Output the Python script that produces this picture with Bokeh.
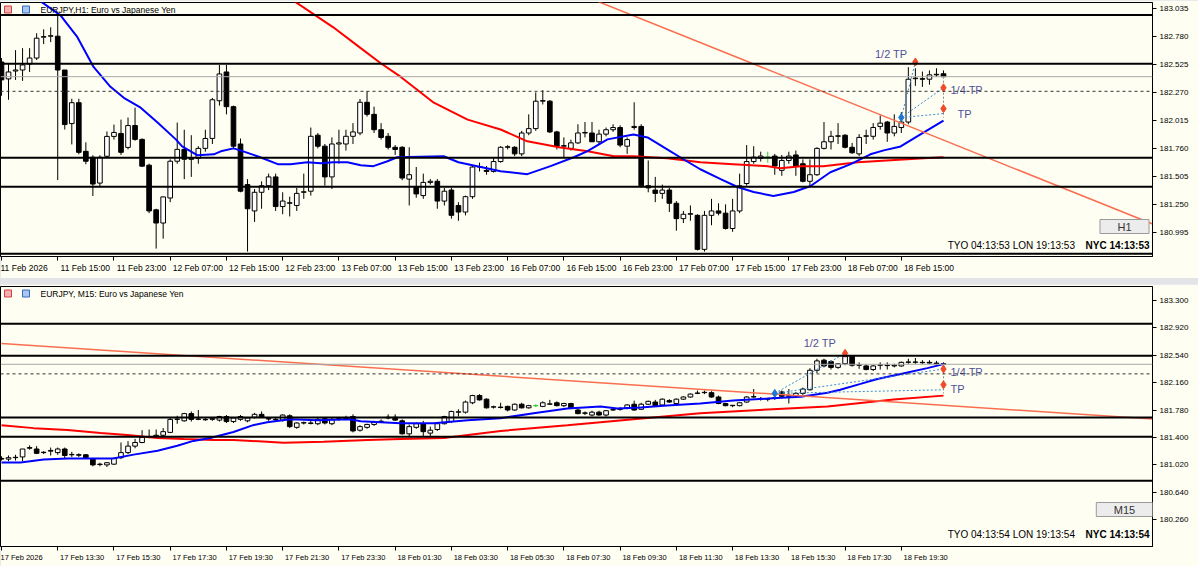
from bokeh.plotting import figure
from bokeh.layouts import column
from bokeh.models import Range1d, FixedTicker, NumeralTickFormatter, Label, Span, ColumnDataSource
from bokeh.core.properties import value
from bokeh.embed import file_html
from bokeh.resources import INLINE

# ---------------- data: H1 panel ----------------
h1_xlabels = ["11 Feb 2026", "11 Feb 15:00", "11 Feb 23:00", "12 Feb 07:00", "12 Feb 15:00",
              "12 Feb 23:00", "13 Feb 07:00", "13 Feb 15:00", "13 Feb 23:00", "16 Feb 07:00",
              "16 Feb 15:00", "16 Feb 23:00", "17 Feb 07:00", "17 Feb 15:00", "17 Feb 23:00",
              "18 Feb 07:00", "18 Feb 15:00"]
h1_yticks = [183.035, 182.780, 182.525, 182.270, 182.015, 181.760, 181.505, 181.250, 180.995]

h1_open = [182.547, 182.393, 182.465, 182.474, 182.529, 182.583, 182.773, 182.782, 182.782, 182.474,
           181.986, 182.176, 181.733, 181.679, 181.444, 181.688, 181.869, 181.896, 181.769, 181.968,
           181.842, 181.607, 181.200, 181.080, 181.308, 181.643, 181.751, 181.660, 181.670, 181.760,
           181.851, 182.194, 182.456, 182.140, 181.800, 181.430, 181.190, 181.360, 181.420, 181.500,
           181.230, 181.260, 181.240, 181.360, 181.370, 181.880, 181.780, 181.500, 181.800, 181.800,
           181.870, 181.900, 182.180, 182.070, 181.930, 181.870, 181.770, 181.770, 181.480, 181.410,
           181.330, 181.450, 181.460, 181.280, 181.380, 181.240, 181.180, 181.320, 181.590, 181.560,
           181.550, 181.640, 181.770, 181.770, 181.710, 181.900, 181.940, 182.190, 182.190, 181.910,
           181.780, 181.760, 181.810, 181.900, 181.900, 181.820, 181.890, 181.930, 181.950, 181.780,
           181.950, 181.960, 181.420, 181.380, 181.350, 181.380, 181.260, 181.120, 181.160, 181.150,
           180.840, 181.150, 181.190, 181.170, 181.030, 181.190, 181.440, 181.640, 181.670, 181.680,
           181.690, 181.560, 181.650, 181.700, 181.620, 181.460, 181.520, 181.760, 181.820, 181.870,
           181.880, 181.770, 181.710, 181.870, 181.870, 181.960, 182.000, 181.900, 181.950, 182.000,
           182.395, 182.395, 182.390, 182.430, 182.440]
h1_high = [182.583, 182.529, 182.655, 182.673, 182.673, 182.809, 182.845, 182.863, 182.999, 182.474,
           182.212, 182.212, 181.815, 181.697, 181.697, 181.914, 181.977, 182.022, 182.041, 182.131,
           181.851, 181.620, 181.210, 181.320, 181.660, 181.995, 181.930, 181.880, 181.780, 181.930,
           182.220, 182.520, 182.520, 182.150, 181.850, 181.480, 181.390, 181.460, 181.530, 181.530,
           181.360, 181.320, 181.400, 181.530, 181.950, 181.900, 181.800, 181.860, 181.930, 181.930,
           181.990, 182.210, 182.280, 182.140, 181.990, 181.900, 181.790, 181.780, 181.770, 181.590,
           181.530, 181.480, 181.480, 181.400, 181.400, 181.270, 181.330, 181.600, 181.630, 181.600,
           181.680, 181.780, 181.790, 181.780, 181.920, 182.070, 182.270, 182.290, 182.200, 181.920,
           181.860, 181.840, 181.980, 182.000, 182.000, 181.930, 181.950, 181.980, 181.970, 181.860,
           182.180, 181.980, 181.650, 181.500, 181.430, 181.400, 181.280, 181.190, 181.240, 181.160,
           181.190, 181.300, 181.260, 181.250, 181.300, 181.530, 181.790, 181.780, 181.730, 181.730,
           181.710, 181.700, 181.730, 181.740, 181.660, 181.660, 181.770, 182.000, 181.920, 181.990,
           181.890, 181.810, 181.890, 181.930, 181.990, 182.060, 182.010, 182.070, 182.090, 182.500,
           182.490, 182.460, 182.470, 182.490, 182.470]
h1_low = [182.239, 182.203, 182.384, 182.375, 182.456, 182.565, 182.710, 182.728, 181.471, 181.932,
          181.796, 181.706, 181.615, 181.326, 181.417, 181.670, 181.840, 181.700, 181.750, 181.830,
          181.590, 181.170, 180.847, 180.937, 181.270, 181.620, 181.480, 181.500, 181.620, 181.730,
          181.800, 182.150, 182.070, 181.760, 181.360, 180.820, 181.090, 181.210, 181.380, 181.190,
          181.160, 181.140, 181.190, 181.300, 181.330, 181.760, 181.420, 181.390, 181.620, 181.740,
          181.800, 181.880, 182.050, 181.900, 181.840, 181.750, 181.700, 181.470, 181.240, 181.310,
          181.300, 181.430, 181.210, 181.240, 181.120, 181.100, 181.150, 181.300, 181.550, 181.520,
          181.540, 181.630, 181.750, 181.690, 181.690, 181.880, 181.920, 182.160, 181.900, 181.750,
          181.680, 181.740, 181.800, 181.860, 181.820, 181.800, 181.870, 181.910, 181.770, 181.710,
          181.930, 181.400, 181.360, 181.270, 181.300, 181.180, 181.010, 181.080, 181.100, 180.830,
          180.820, 181.060, 181.150, 181.020, 181.000, 181.170, 181.420, 181.620, 181.640, 181.630,
          181.520, 181.510, 181.620, 181.510, 181.450, 181.420, 181.510, 181.750, 181.750, 181.800,
          181.760, 181.710, 181.690, 181.800, 181.840, 181.930, 181.820, 181.870, 181.900, 181.980,
          182.330, 182.320, 182.340, 182.410, 182.410]
h1_close = [182.384, 182.456, 182.474, 182.520, 182.583, 182.764, 182.778, 182.786, 182.474, 181.977,
            182.176, 181.724, 181.643, 181.435, 181.679, 181.869, 181.905, 181.724, 181.968, 181.842,
            181.598, 181.190, 181.080, 181.318, 181.643, 181.751, 181.661, 181.670, 181.760, 181.850,
            182.203, 182.438, 182.140, 181.780, 181.370, 181.210, 181.360, 181.420, 181.500, 181.230,
            181.280, 181.265, 181.350, 181.365, 181.870, 181.780, 181.500, 181.800, 181.810, 181.870,
            181.910, 182.180, 182.070, 181.930, 181.860, 181.770, 181.750, 181.490, 181.520, 181.345,
            181.450, 181.460, 181.280, 181.370, 181.150, 181.180, 181.320, 181.590, 181.595, 181.550,
            181.640, 181.770, 181.775, 181.710, 181.900, 181.940, 182.190, 182.195, 181.910, 181.780,
            181.785, 181.810, 181.900, 181.905, 181.820, 181.890, 181.930, 181.950, 181.790, 181.840,
            181.960, 181.420, 181.400, 181.350, 181.380, 181.260, 181.120, 181.160, 181.165, 180.840,
            181.150, 181.190, 181.170, 181.030, 181.190, 181.420, 181.640, 181.680, 181.690, 181.680,
            181.600, 181.650, 181.690, 181.600, 181.460, 181.520, 181.760, 181.820, 181.870, 181.875,
            181.770, 181.720, 181.860, 181.875, 181.950, 181.990, 181.900, 181.960, 182.000, 182.390,
            182.400, 182.390, 182.430, 182.435, 182.413]
h1_green = [109]

h1_fast_x = [5, 8.4, 10.8, 13.1, 15.5, 17.4, 19.8, 22.2, 24.8, 25.7, 27.9, 30.2, 31.2, 33, 34.4, 36.8,
             39.3, 41.1, 43.5, 45.4, 47.2, 49.2, 51.1, 52.9, 54.9, 56.3, 62.9, 65, 71, 74.8, 78.1,
             81.4, 83.3, 86.2, 89.9, 91.9, 94.7, 97, 99.4, 102.3, 104.7, 107, 109.8, 112.7, 115.1,
             117.9, 120.8, 123.6, 125.5, 127.9, 131.2, 134]
h1_fast_y = [183.125, 182.972, 182.773, 182.502, 182.321, 182.221, 182.131, 181.995, 181.842, 181.778,
             181.697, 181.706, 181.733, 181.760, 181.733, 181.679, 181.616, 181.616, 181.634, 181.625,
             181.634, 181.634, 181.607, 181.598, 181.643, 181.679, 181.688, 181.634, 181.552, 181.525,
             181.598, 181.679, 181.733, 181.842, 181.887, 181.860, 181.751, 181.661, 181.570, 181.480,
             181.408, 181.363, 181.326, 181.363, 181.417, 181.543, 181.616, 181.706, 181.742, 181.778,
             181.905, 182.013]
h1_slow_x = [40.4, 41.5, 47.2, 51.1, 53.9, 56.8, 61.5, 66.3, 71, 74.8, 79.5, 83.4, 87.1, 89.9, 94.7,
             99.4, 104.1, 109, 110.8, 113.7, 116.9, 121.8, 126.5, 131.2, 134]
h1_slow_y = [183.125, 183.107, 182.863, 182.673, 182.538, 182.411, 182.176, 182.022, 181.932, 181.824,
             181.769, 181.733, 181.688, 181.688, 181.670, 181.634, 181.616, 181.598, 181.580, 181.598,
             181.598, 181.634, 181.652, 181.670, 181.679]
h1_trend_x = [84.5, 164.4]
h1_trend_y = [183.107, 181.055]
# take-profit tool: start (blue), 1/2 TP, 1/4 TP, TP ; plus horizontal guide level
h1_fib_x = [128, 130, 134, 134]
h1_fib_y = [182.041, 182.547, 182.312, 182.122]
h1_fib_guide = 182.077

# ---------------- data: M15 panel ----------------
m15_xlabels = ["17 Feb 2026", "17 Feb 13:30", "17 Feb 15:30", "17 Feb 17:30", "17 Feb 19:30",
               "17 Feb 21:30", "17 Feb 23:30", "18 Feb 01:30", "18 Feb 03:30", "18 Feb 05:30",
               "18 Feb 07:30", "18 Feb 09:30", "18 Feb 11:30", "18 Feb 13:30", "18 Feb 15:30",
               "18 Feb 17:30", "18 Feb 19:30"]
m15_yticks = [183.300, 182.920, 182.540, 182.160, 181.780, 181.400, 181.020, 180.640, 180.260]

m15_open = [181.11, 181.10, 181.12, 181.13, 181.25, 181.24, 181.19, 181.21, 181.19, 181.24,
            181.16, 181.16, 181.16, 181.10, 181.03, 181.02, 181.03, 181.12, 181.19, 181.28,
            181.33, 181.40, 181.42, 181.43, 181.47, 181.65, 181.63, 181.73, 181.65, 181.65,
            181.65, 181.64, 181.69, 181.62, 181.65, 181.63, 181.68, 181.72, 181.66, 181.65,
            181.64, 181.70, 181.54, 181.60, 181.60, 181.59, 181.66, 181.59, 181.65, 181.66,
            181.69, 181.50, 181.54, 181.58, 181.62, 181.67, 181.68, 181.63, 181.45, 181.54,
            181.59, 181.46, 181.51, 181.59, 181.62, 181.75, 181.75, 181.88, 181.98, 181.93,
            181.82, 181.82, 181.83, 181.78, 181.86, 181.81, 181.84, 181.83, 181.86, 181.88,
            181.84, 181.87, 181.78, 181.74, 181.71, 181.75, 181.71, 181.78, 181.79, 181.81,
            181.86, 181.79, 181.86, 181.89, 181.85, 181.91, 181.87, 181.93, 181.96, 182.01,
            182.02, 182.02, 181.96, 181.87, 181.84, 181.84, 181.89, 181.96, 181.94, 181.93,
            181.94, 182.03, 181.97, 181.97, 182.01, 182.06, 182.33, 182.47, 182.45, 182.37,
            182.42, 182.52, 182.40, 182.39, 182.34, 182.40, 182.40, 182.39, 182.39, 182.44,
            182.44, 182.44, 182.44, 182.43, 182.42]
m15_high = [181.14, 181.15, 181.16, 181.24, 181.29, 181.28, 181.21, 181.26, 181.26, 181.26,
            181.20, 181.18, 181.17, 181.11, 181.05, 181.06, 181.12, 181.33, 181.35, 181.38,
            181.50, 181.51, 181.51, 181.53, 181.67, 181.70, 181.74, 181.76, 181.78, 181.67,
            181.68, 181.70, 181.71, 181.68, 181.71, 181.68, 181.74, 181.76, 181.68, 181.67,
            181.72, 181.72, 181.61, 181.62, 181.63, 181.67, 181.68, 181.67, 181.68, 181.70,
            181.72, 181.57, 181.59, 181.63, 181.65, 181.72, 181.72, 181.65, 181.58, 181.61,
            181.63, 181.55, 181.60, 181.70, 181.77, 181.79, 181.91, 181.99, 182.00, 181.94,
            181.84, 181.88, 181.84, 181.87, 181.88, 181.85, 181.86, 181.90, 181.92, 181.90,
            181.88, 181.88, 181.80, 181.76, 181.77, 181.77, 181.78, 181.80, 181.82, 181.86,
            181.91, 181.88, 181.91, 181.92, 181.94, 181.93, 181.94, 181.97, 182.01, 182.05,
            182.05, 182.04, 181.98, 181.88, 181.85, 181.89, 181.97, 182.07, 181.96, 181.95,
            181.97, 182.05, 182.07, 182.03, 182.09, 182.36, 182.49, 182.49, 182.47, 182.43,
            182.58, 182.53, 182.44, 182.41, 182.40, 182.44, 182.44, 182.42, 182.45, 182.49,
            182.50, 182.47, 182.47, 182.46, 182.44]
m15_low = [181.08, 181.07, 181.08, 181.07, 181.23, 181.17, 181.17, 181.15, 181.16, 181.11,
           181.13, 181.13, 181.11, 181.00, 181.00, 180.99, 181.02, 181.10, 181.17, 181.25,
           181.32, 181.39, 181.40, 181.41, 181.46, 181.59, 181.62, 181.62, 181.64, 181.63,
           181.63, 181.62, 181.60, 181.60, 181.63, 181.61, 181.66, 181.67, 181.63, 181.62,
           181.62, 181.53, 181.52, 181.58, 181.58, 181.57, 181.58, 181.57, 181.63, 181.64,
           181.47, 181.48, 181.52, 181.56, 181.60, 181.65, 181.63, 181.44, 181.42, 181.52,
           181.42, 181.42, 181.49, 181.58, 181.60, 181.69, 181.73, 181.86, 181.91, 181.80,
           181.80, 181.80, 181.76, 181.77, 181.80, 181.80, 181.82, 181.82, 181.85, 181.83,
           181.82, 181.80, 181.72, 181.71, 181.69, 181.70, 181.69, 181.77, 181.77, 181.79,
           181.77, 181.78, 181.85, 181.83, 181.84, 181.88, 181.86, 181.92, 181.95, 182.00,
           182.00, 181.95, 181.86, 181.83, 181.82, 181.83, 181.88, 181.95, 181.91, 181.90,
           181.92, 181.96, 181.87, 181.95, 181.99, 182.05, 182.29, 182.37, 182.34, 182.35,
           182.40, 182.38, 182.35, 182.33, 182.32, 182.34, 182.34, 182.37, 182.38, 182.42,
           182.42, 182.42, 182.42, 182.41, 182.40]
m15_close = [181.10, 181.12, 181.125, 181.24, 181.26, 181.18, 181.195, 181.22, 181.24, 181.15,
             181.165, 181.155, 181.12, 181.02, 181.025, 181.05, 181.11, 181.19, 181.28, 181.33,
             181.40, 181.41, 181.43, 181.48, 181.65, 181.655, 181.73, 181.65, 181.655, 181.645,
             181.66, 181.69, 181.62, 181.67, 181.69, 181.67, 181.72, 181.68, 181.655, 181.645,
             181.71, 181.55, 181.60, 181.605, 181.595, 181.65, 181.60, 181.65, 181.66, 181.67,
             181.49, 181.55, 181.58, 181.61, 181.625, 181.68, 181.64, 181.45, 181.55, 181.59,
             181.48, 181.50, 181.59, 181.69, 181.76, 181.755, 181.89, 181.98, 181.92, 181.81,
             181.825, 181.815, 181.78, 181.86, 181.81, 181.84, 181.84, 181.88, 181.865, 181.84,
             181.87, 181.81, 181.73, 181.735, 181.75, 181.71, 181.77, 181.785, 181.795, 181.85,
             181.78, 181.86, 181.90, 181.84, 181.93, 181.89, 181.93, 181.96, 182.00, 182.015,
             182.025, 181.96, 181.87, 181.84, 181.845, 181.88, 181.96, 181.965, 181.935, 181.935,
             181.95, 181.97, 181.98, 182.01, 182.07, 182.33, 182.46, 182.39, 182.37, 182.42,
             182.52, 182.40, 182.405, 182.34, 182.39, 182.405, 182.395, 182.40, 182.44, 182.445,
             182.445, 182.435, 182.43, 182.42, 182.413]
m15_green = [76]

m15_fast_x = [0, 2.7, 6.0, 9.4, 11.7, 15.9, 18.8, 22.2, 25.0, 27.3, 29.7, 33.0, 35.8, 37.8, 41.1,
              44.9, 49.6, 51.1, 56.8, 61.5, 66.3, 71.0, 75.7, 80.5, 85.2, 87.6, 90.9, 94.7, 99.4,
              104.1, 109.0, 113.7, 117.5, 119.3, 122.2, 124.6, 127.9, 131.7, 134]
m15_fast_y = [181.053, 181.053, 181.094, 181.107, 181.107, 181.107, 181.162, 181.216, 181.284, 181.352,
              181.393, 181.475, 181.570, 181.611, 181.652, 181.638, 181.652, 181.625, 181.598, 181.598,
              181.638, 181.666, 181.734, 181.802, 181.829, 181.802, 181.816, 181.843, 181.870, 181.911,
              181.938, 181.965, 182.020, 182.061, 182.142, 182.210, 182.279, 182.360, 182.415]
m15_slow_x = [0, 4.6, 9.4, 14.1, 17.9, 22.2, 25.9, 30.2, 33.0, 37.8, 40.1, 45.8, 52.1, 56.8, 62.9,
              71.0, 80.5, 89.9, 99.4, 109.0, 117.5, 126.9, 134]
m15_slow_y = [181.570, 181.529, 181.502, 181.461, 181.434, 181.393, 181.380, 181.366, 181.366, 181.339,
              181.325, 181.339, 181.366, 181.380, 181.393, 181.489, 181.570, 181.652, 181.734, 181.788,
              181.829, 181.924, 181.979]
m15_trend_x = [0, 164.4]
m15_trend_y = [182.70, 181.652]
m15_fib_x = [110, 120, 134, 134]
m15_fib_y = [182.010, 182.565, 182.347, 182.129]
m15_fib_guide = 182.060

# shared horizontal objects
levels = [182.975, 182.530, 181.675, 181.410, 180.800]
bid_price = 182.413
dashed_level = 182.280
fib_labels = ["1/2 TP", "1/4 TP", "TP"]

# ---------------- styling ----------------
BG = "#FEFEF2"
FONT = "Liberation Sans"
FW = 1152
XR = (-0.14, 163.73)

# approximate Arial/Liberation advance widths (1/1000 em) used to left-align the time labels
CW = {" ": 278, ":": 278, "F": 611, "e": 556, "b": 556}


def left_pad(s, size_px):
    w = sum(CW.get(ch, 556) for ch in s) / 1000.0 * size_px
    n = int(round((w + 4) / (0.5 * size_px)))
    return "\u2002" * n + s


def make_panel(title, o, h, l, c, green, xlabels, yticks, yr, fast_x, fast_y, slow_x, slow_y,
               tr_x, tr_y, fib_x, fib_y, fib_guide, fh, top_border, bottom_border, tf, clock_a,
               clock_b, label_offsets, xfont):
    p = figure(frame_width=FW, frame_height=fh, x_range=Range1d(*XR), y_range=Range1d(*yr),
               y_axis_location="right", output_backend="svg", toolbar_location=None,
               background_fill_color=BG, border_fill_color=BG, min_border_left=0,
               min_border_right=46, min_border_top=top_border, min_border_bottom=bottom_border,
               outline_line_color="black", outline_line_width=1)
    p.xgrid.visible = False
    p.ygrid.visible = False

    n = len(o)
    xs = list(range(n))
    top = [max(a, b) for a, b in zip(o, c)]
    bot = [min(a, b) for a, b in zip(o, c)]
    fill = ["#32CD32" if i in green else ("white" if c[i] >= o[i] else "black") for i in xs]
    line = ["#32CD32" if i in green else "black" for i in xs]
    src = ColumnDataSource(dict(x=xs, high=h, low=l, top=top, bot=bot, fill=fill, line=line))
    p.segment(x0="x", y0="low", x1="x", y1="high", color="line", line_width=1, source=src)
    p.vbar(x="x", width=0.66, top="top", bottom="bot", fill_color="fill", line_color="line",
           line_width=1, source=src)

    # moving averages and trend line
    p.line(slow_x, slow_y, color="#FF0000", line_width=2)
    p.line(fast_x, fast_y, color="#0000FF", line_width=2)
    p.line(tr_x, tr_y, color="#FA6E50", line_width=1.5)

    # horizontal levels
    for lv in levels:
        p.add_layout(Span(location=lv, dimension="width", line_color="black", line_width=2))
    p.add_layout(Span(location=bid_price, dimension="width", line_color="#A8A8A8", line_width=1))
    p.add_layout(Span(location=dashed_level, dimension="width", line_color="#333333",
                      line_width=1, line_dash="3 3"))

    # take-profit tool
    x0, y0 = fib_x[0], fib_y[0]
    p.segment(x0=[x0, x0, x0], y0=[y0, y0, y0], x1=[fib_x[1], fib_x[2], fib_x[3]],
              y1=[fib_y[1], fib_y[2], fib_guide], color="#3C8CD2", line_width=1, line_dash="2 2")
    p.segment(x0=[fib_x[3]], y0=[bid_price], x1=[fib_x[3]], y1=[y0], color="#888888",
              line_width=1, line_dash="2 2")
    p.scatter(x=[x0], y=[y0], marker="diamond", size=8, color="#1E78D0")
    p.scatter(x=fib_x[1:], y=fib_y[1:], marker="diamond", size=8, color="#F04A2A")
    aligns = ["right", "left", "left"]
    for k in range(3):
        dx, dy = label_offsets[k]
        p.text(x=[fib_x[k + 1]], y=[fib_y[k + 1]], text=[fib_labels[k]], text_font=value(FONT),
               text_font_size="11px", text_color="#50509A", text_align=aligns[k],
               text_baseline="middle", x_offset=dx, y_offset=dy)

    # axes (time labels start at their tick, as on the terminal)
    xt = [8 * k for k in range(len(xlabels))]
    size_px = float(xfont.replace("px", ""))
    p.xaxis.ticker = FixedTicker(ticks=xt)
    p.xaxis.major_label_overrides = {t: (s if k == 0 else left_pad(s, size_px))
                                     for k, (t, s) in enumerate(zip(xt, xlabels))}
    p.xaxis.major_label_text_font_size = xfont
    p.xaxis.major_label_standoff = 2
    p.yaxis.ticker = FixedTicker(ticks=yticks)
    p.yaxis.formatter = NumeralTickFormatter(format="0.000")
    p.yaxis.major_label_text_font_size = "8px"
    p.yaxis.major_label_standoff = 3
    for ax in (p.xaxis, p.yaxis):
        ax.major_label_text_font = FONT
        ax.major_label_text_color = "black"
        ax.major_tick_out = 4
        ax.major_tick_in = 0
        ax.minor_tick_out = 0
        ax.minor_tick_in = 0
        ax.axis_line_color = "black"
        ax.major_tick_line_color = "black"

    # title and icons
    p.add_layout(Label(x=4, y=fh - 7, x_units="screen", y_units="screen", text="\u2002\u2002",
                       text_font_size="7px", background_fill_color="#F4B0B0",
                       border_line_color="#D04040", text_baseline="middle"))
    p.add_layout(Label(x=22, y=fh - 7, x_units="screen", y_units="screen", text="\u2002\u2002",
                       text_font_size="7px", background_fill_color="#A8C8F0",
                       border_line_color="#3468C0", text_baseline="middle"))
    p.add_layout(Label(x=40, y=fh - 7, x_units="screen", y_units="screen", text=title,
                       text_font=FONT, text_font_size="8.5px", text_color="black",
                       text_baseline="middle"))

    # current price tag on the price scale
    p.add_layout(Label(x=FW + 3, y=bid_price, x_units="screen", y_units="data", text="182.413",
                       text_font=FONT, text_font_size="8px", text_color="white",
                       background_fill_color="#7A7A7A", text_baseline="middle", padding=1))

    # timeframe button and clocks
    p.add_layout(Label(x=FW - 28, y=tf[1], x_units="screen", y_units="screen",
                       text="\u2003\u2002" + tf[0] + "\u2003\u2002", text_font=FONT,
                       text_font_size="11px", text_color="#333333", text_align="center",
                       text_baseline="middle", background_fill_color="#ECECEC",
                       border_line_color="#9A9A9A", padding=1))
    p.add_layout(Label(x=FW - 3, y=tf[2], x_units="screen", y_units="screen", text=clock_b,
                       text_font=FONT, text_font_size="10px", text_font_style="bold",
                       text_color="black", text_align="right", text_baseline="middle"))
    p.add_layout(Label(x=FW - 72, y=tf[2], x_units="screen", y_units="screen", text=clock_a,
                       text_font=FONT, text_font_size="10px", text_color="black",
                       text_align="right", text_baseline="middle"))
    return p


p1 = make_panel("EURJPY,H1:  Euro vs Japanese Yen", h1_open, h1_high, h1_low, h1_close, h1_green,
                h1_xlabels, h1_yticks, (180.775, 183.089), h1_fast_x, h1_fast_y, h1_slow_x,
                h1_slow_y, h1_trend_x, h1_trend_y, h1_fib_x, h1_fib_y, h1_fib_guide,
                254, 2, 22, ("H1", 30, 11), "TYO 04:13:53   LON 19:13:53", "NYC 14:13:53",
                [(-8, -8), (7, 2), (14, 5)], "8.5px")
p2 = make_panel("EURJPY, M15:  Euro vs Japanese Yen", m15_open, m15_high, m15_low, m15_close,
                m15_green, m15_xlabels, m15_yticks, (179.89, 183.49), m15_fast_x, m15_fast_y,
                m15_slow_x, m15_slow_y, m15_trend_x, m15_trend_y, m15_fib_x, m15_fib_y,
                m15_fib_guide, 260, 2, 20, ("M15", 37, 12), "TYO 04:13:54   LON 19:13:54",
                "NYC 14:13:54", [(-9, -10), (7, 3), (7, 4)], "7.5px")

layout = column(p1, p2, spacing=6, styles={"background-color": "#E2E4E8"})
open("out.html", "w").write(file_html(layout, INLINE))
